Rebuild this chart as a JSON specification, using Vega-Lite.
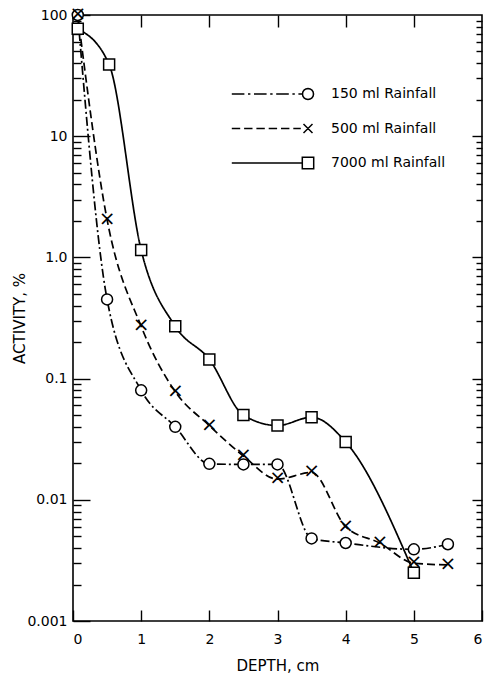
{
  "$schema": "https://vega.github.io/schema/vega-lite/v6.json",
  "width": 409,
  "height": 606,
  "autosize": {"type": "none"},
  "padding": {"left": 73, "top": 15, "right": 5, "bottom": 54},
  "background": "white",
  "config": {
    "font": "DejaVu Sans",
    "view": {"stroke": "black", "strokeWidth": 1.6},
    "axis": {"domain": false, "grid": false, "ticks": true, "tickColor": "black", "tickWidth": 1.4, "labelColor": "black", "titleColor": "black", "labelFontSize": 14, "titleFontSize": 15, "titleFontWeight": "normal"},
    "legend": {"labelColor": "black", "labelFontSize": 14}
  },
  "data": {
    "values": [
      {"depth": 0.07, "activity": 100, "series": "150 ml Rainfall"},
      {"depth": 0.5, "activity": 0.45, "series": "150 ml Rainfall"},
      {"depth": 1.0, "activity": 0.08, "series": "150 ml Rainfall"},
      {"depth": 1.5, "activity": 0.04, "series": "150 ml Rainfall"},
      {"depth": 2.0, "activity": 0.0198, "series": "150 ml Rainfall"},
      {"depth": 2.5, "activity": 0.0196, "series": "150 ml Rainfall"},
      {"depth": 3.0, "activity": 0.0196, "series": "150 ml Rainfall"},
      {"depth": 3.5, "activity": 0.0048, "series": "150 ml Rainfall"},
      {"depth": 4.0, "activity": 0.0044, "series": "150 ml Rainfall"},
      {"depth": 5.0, "activity": 0.0039, "series": "150 ml Rainfall"},
      {"depth": 5.5, "activity": 0.0043, "series": "150 ml Rainfall"},
      {"depth": 0.07, "activity": 100, "series": "500 ml Rainfall"},
      {"depth": 0.5, "activity": 2.05, "series": "500 ml Rainfall"},
      {"depth": 1.0, "activity": 0.27, "series": "500 ml Rainfall"},
      {"depth": 1.5, "activity": 0.078, "series": "500 ml Rainfall"},
      {"depth": 2.0, "activity": 0.041, "series": "500 ml Rainfall"},
      {"depth": 2.5, "activity": 0.023, "series": "500 ml Rainfall"},
      {"depth": 3.0, "activity": 0.0148, "series": "500 ml Rainfall"},
      {"depth": 3.5, "activity": 0.0168, "series": "500 ml Rainfall"},
      {"depth": 4.0, "activity": 0.006, "series": "500 ml Rainfall"},
      {"depth": 4.5, "activity": 0.0044, "series": "500 ml Rainfall"},
      {"depth": 5.0, "activity": 0.003, "series": "500 ml Rainfall"},
      {"depth": 5.5, "activity": 0.0029, "series": "500 ml Rainfall"},
      {"depth": 0.07, "activity": 77, "series": "7000 ml Rainfall"},
      {"depth": 0.53, "activity": 39, "series": "7000 ml Rainfall"},
      {"depth": 1.0, "activity": 1.15, "series": "7000 ml Rainfall"},
      {"depth": 1.5, "activity": 0.27, "series": "7000 ml Rainfall"},
      {"depth": 2.0, "activity": 0.144, "series": "7000 ml Rainfall"},
      {"depth": 2.5, "activity": 0.05, "series": "7000 ml Rainfall"},
      {"depth": 3.0, "activity": 0.041, "series": "7000 ml Rainfall"},
      {"depth": 3.5, "activity": 0.048, "series": "7000 ml Rainfall"},
      {"depth": 4.0, "activity": 0.03, "series": "7000 ml Rainfall"},
      {"depth": 5.0, "activity": 0.0025, "series": "7000 ml Rainfall"}
    ]
  },
  "layer": [
    {
      "mark": {"type": "line", "interpolate": "monotone", "color": "black", "strokeWidth": 1.7},
      "encoding": {
        "x": {
          "field": "depth",
          "type": "quantitative",
          "scale": {"domain": [0, 6], "nice": false, "zero": false},
          "axis": {"orient": "bottom", "values": [0, 1, 2, 3, 4, 5, 6], "format": "d", "offset": -11, "tickSize": 11, "labelPadding": 11, "title": "DEPTH, cm", "titlePadding": 12}
        },
        "y": {
          "field": "activity",
          "type": "quantitative",
          "scale": {"type": "log", "domain": [0.001, 100], "nice": false},
          "axis": {
            "orient": "left",
            "values": [0.001, 0.01, 0.1, 1, 10, 100],
            "labelExpr": "datum.value == 100 ? '100' : datum.value == 10 ? '10' : datum.value == 1 ? '1.0' : datum.value == 0.1 ? '0.1' : datum.value == 0.01 ? '0.01' : '0.001'",
            "labelOverlap": false,
            "offset": -17,
            "tickSize": 17,
            "labelPadding": 6,
            "title": "ACTIVITY, %",
            "titlePadding": -1
          }
        },
        "strokeDash": {
          "field": "series",
          "type": "nominal",
          "scale": {"domain": ["150 ml Rainfall", "500 ml Rainfall", "7000 ml Rainfall"], "range": [[9, 3, 2, 3], [8, 4], [1, 0]]},
          "legend": null
        }
      }
    },
    {
      "transform": [{"filter": "datum.series != '500 ml Rainfall'"}],
      "mark": {"type": "point", "filled": true, "fill": "white", "stroke": "black", "strokeWidth": 1.5, "size": 121, "opacity": 1},
      "encoding": {
        "x": {
          "field": "depth",
          "type": "quantitative",
          "axis": {"orient": "top", "values": [1, 2, 3, 4, 5], "labels": false, "offset": -12, "tickSize": 12, "title": null}
        },
        "y": {
          "field": "activity",
          "type": "quantitative",
          "axis": {"orient": "right", "values": [0.01, 0.1, 1, 10], "labels": false, "offset": -10, "tickSize": 10, "title": null}
        },
        "shape": {"field": "series", "type": "nominal", "legend": null}
      }
    },
    {
      "transform": [{"filter": "datum.series == '500 ml Rainfall'"}],
      "mark": {"type": "text", "text": "×", "font": "DejaVu Sans", "fontSize": 20, "align": "center", "baseline": "middle", "dy": -1, "color": "black"},
      "encoding": {
        "x": {"field": "depth", "type": "quantitative", "axis": null},
        "y": {"field": "activity", "type": "quantitative", "axis": null}
      }
    },
    {
      "transform": [{"filter": "datum.depth > 100"}],
      "mark": {"type": "point", "filled": true, "fill": "white", "stroke": "black", "strokeWidth": 1.6, "size": 144, "opacity": 1},
      "encoding": {
        "x": {"field": "depth", "type": "quantitative", "axis": null},
        "y": {
          "field": "activity",
          "type": "quantitative",
          "axis": {
            "orient": "left",
            "values": [0.002, 0.003, 0.004, 0.005, 0.006, 0.007, 0.008, 0.009,
                       0.02, 0.03, 0.04, 0.05, 0.06, 0.07, 0.08, 0.09,
                       0.2, 0.3, 0.4, 0.5, 0.6, 0.7, 0.8, 0.9,
                       2, 3, 4, 5, 6, 7, 8, 9,
                       20, 30, 40, 50, 60, 70, 80, 90],
            "labels": false,
            "offset": -8,
            "tickSize": 8,
            "title": null
          }
        },
        "shape": {
          "field": "series",
          "type": "nominal",
          "scale": {
            "domain": ["150 ml Rainfall", "500 ml Rainfall", "7000 ml Rainfall"],
            "range": [
              "M-12.7,0L-10.6,0M-10,0L-9.6,0M-9,0L-6.9,0M-6.3,0L-5.9,0M-5.3,0L-3.2,0M-2.6,0L-2.2,0M-1.6,0L-0.95,0M0.92,0L0.85,0.352L0.651,0.651L0.352,0.85L0,0.92L-0.352,0.85L-0.651,0.651L-0.85,0.352L-0.92,0L-0.85,-0.352L-0.651,-0.651L-0.352,-0.85L0,-0.92L0.352,-0.85L0.651,-0.651L0.85,-0.352Z",
              "M-12.7,0L-11.3,0M-10.65,0L-9.25,0M-8.6,0L-7.2,0M-6.55,0L-5.15,0M-4.5,0L-3.1,0M-2.45,0L-1.2,0M-0.75,-0.75L0.75,0.75M-0.75,0.75L0.75,-0.75",
              "M-12.7,0L-0.95,0M-0.95,-0.95L0.95,-0.95L0.95,0.95L-0.95,0.95Z"
            ]
          },
          "legend": {
            "orient": "none",
            "legendX": 228,
            "legendY": 72,
            "title": null,
            "padding": 0,
            "symbolSize": 144,
            "labelOffset": 16,
            "rowPadding": 17.5
          }
        }
      }
    },
    {
      "transform": [{"filter": "datum.depth > 100"}],
      "mark": {"type": "point", "opacity": 0},
      "encoding": {
        "x": {"field": "depth", "type": "quantitative", "axis": null},
        "y": {
          "field": "activity",
          "type": "quantitative",
          "axis": {
            "orient": "right",
            "values": [0.002, 0.003, 0.004, 0.005, 0.006, 0.007, 0.008, 0.009,
                       0.02, 0.03, 0.04, 0.05, 0.06, 0.07, 0.08, 0.09,
                       0.2, 0.3, 0.4, 0.5, 0.6, 0.7, 0.8, 0.9,
                       2, 3, 4, 5, 6, 7, 8, 9,
                       20, 30, 40, 50, 60, 70, 80, 90],
            "labels": false,
            "offset": -6,
            "tickSize": 6,
            "title": null
          }
        }
      }
    }
  ],
  "resolve": {
    "axis": {"x": "independent", "y": "independent"},
    "scale": {"shape": "independent"}
  }
}
